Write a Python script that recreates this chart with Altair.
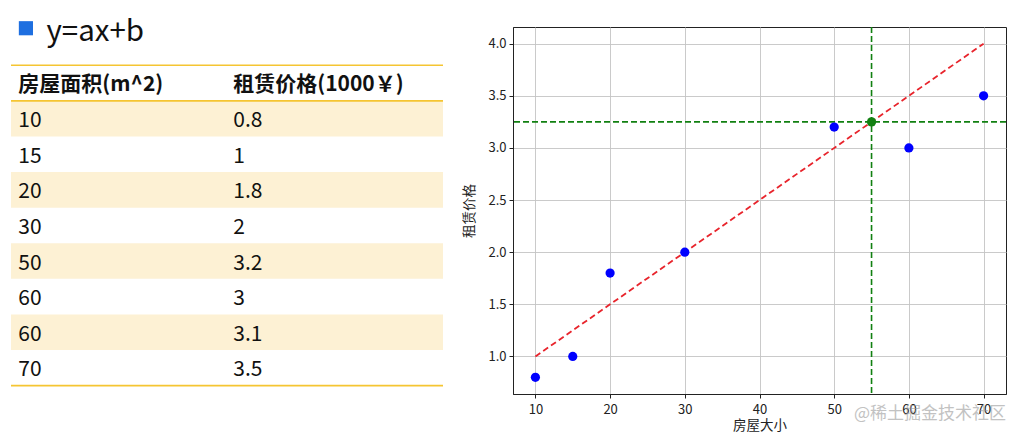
import altair as alt
import pandas as pd

# ---------------- data ----------------
title_text = "y=ax+b"
headers = ["房屋面积(m^2)", "租赁价格(1000￥)"]
table_area = ["10", "15", "20", "30", "50", "60", "60", "70"]
table_price = ["0.8", "1", "1.8", "2", "3.2", "3", "3.1", "3.5"]

pts_x = [10, 15, 20, 30, 50, 60, 70]
pts_y = [0.8, 1.0, 1.8, 2.0, 3.2, 3.0, 3.5]
fit_x = [10, 70]
fit_y = [1.0, 4.0]
pred_x = [55]
pred_y = [3.25]
x_ticks = [10, 20, 30, 40, 50, 60, 70]
y_ticks = [1.0, 1.5, 2.0, 2.5, 3.0, 3.5, 4.0]
x_label = "房屋大小"
y_label = "租赁价格"
watermark = "@稀土掘金技术社区"

# ---------------- styles ----------------
CJK = "Noto Sans CJK SC"
band_color = "#FDF1D4"
line_color = "#F5C532"
square_blue = "#1E6FE0"
text_color = "#111111"
frame = "#222222"
transparent_view = alt.ViewBackground(stroke="transparent")

# ---------------- table (left) ----------------
n = len(table_area)
col_x = [0.017, 0.5145]
xs_t = alt.Scale(domain=[0, 1], nice=False, zero=False)
ys_t = alt.Scale(domain=[-1.58, 9.234], reverse=True, nice=False, zero=False)
tx = alt.X("x:Q", scale=xs_t, axis=None)
ty = alt.Y("k:Q", scale=ys_t, axis=None)

rows = pd.DataFrame({"row": list(range(1, n + 1)), "area": table_area, "price": table_price})
bands = rows[rows["row"] % 2 == 1].assign(y0=lambda d: d["row"], y1=lambda d: d["row"] + 1, x0=0.0, x1=1.0)

band_layer = alt.Chart(bands).mark_rect(color=band_color).encode(
    x=alt.X("x0:Q", scale=xs_t, axis=None), x2="x1:Q",
    y=alt.Y("y0:Q", scale=ys_t, axis=None), y2="y1:Q",
)

rule_df = pd.DataFrame({"k": [0, 1, n + 1]})
rule_layer = alt.Chart(rule_df).mark_rule(color=line_color, strokeWidth=1.6).encode(y=ty)

head_df = pd.DataFrame({"x": col_x, "k": [0.56, 0.56], "t": headers})
head_layer = alt.Chart(head_df).mark_text(
    align="left", baseline="middle", font=CJK, fontSize=21, fontWeight="bold", color=text_color
).encode(x=tx, y=ty, text="t:N")

cells = pd.concat([
    pd.DataFrame({"x": col_x[0], "k": rows["row"] + 0.57, "t": rows["area"]}),
    pd.DataFrame({"x": col_x[1], "k": rows["row"] + 0.57, "t": rows["price"]}),
])
cell_layer = alt.Chart(cells).mark_text(
    align="left", baseline="middle", font=CJK, fontSize=21, color=text_color
).encode(x=tx, y=ty, text="t:N")

sq_layer = alt.Chart(pd.DataFrame({"x": [0.0345], "k": [-1.04]})).mark_square(
    size=200, color=square_blue, opacity=1
).encode(x=tx, y=ty)

ttl_layer = alt.Chart(pd.DataFrame({"x": [0.082], "k": [-0.93], "t": [title_text]})).mark_text(
    align="left", baseline="middle", font=CJK, fontSize=29.5, color=text_color
).encode(x=tx, y=ty, text="t:N")

table = alt.layer(band_layer, rule_layer, head_layer, cell_layer, sq_layer, ttl_layer).properties(
    width=432, height=385, view=transparent_view
)

# ---------------- scatter (right) ----------------
xsc = alt.Scale(domain=[7, 73], nice=False, zero=False)
ysc = alt.Scale(domain=[0.64, 4.16], nice=False, zero=False)

x_axis = alt.Axis(values=x_ticks, title=x_label, grid=True, gridColor="#c4c4c4", gridWidth=0.9,
                  tickSize=4, tickColor=frame, domainColor=frame, labelColor=frame, titleColor=frame,
                  labelFont=CJK, titleFont=CJK, labelFontSize=13, titleFontSize=13.5,
                  titleFontWeight="normal", labelPadding=5, titlePadding=2, format="d")
y_axis = alt.Axis(values=y_ticks, title=y_label, grid=True, gridColor="#c4c4c4", gridWidth=0.9,
                  tickSize=4, tickColor=frame, domainColor=frame, labelColor=frame, titleColor=frame,
                  labelFont=CJK, titleFont=CJK, labelFontSize=13, titleFontSize=13.5,
                  titleFontWeight="normal", labelPadding=3, titlePadding=11, format=".1f")
sx = alt.X("x:Q", scale=xsc, axis=x_axis)
sy = alt.Y("y:Q", scale=ysc, axis=y_axis)

pts = pd.DataFrame({"x": pts_x, "y": pts_y})
fit = pd.DataFrame({"x": fit_x, "y": fit_y})
pred = pd.DataFrame({"x": pred_x, "y": pred_y})

fit_layer = alt.Chart(fit).mark_line(color="#e8242c", strokeWidth=1.8, strokeDash=[6, 3.5]).encode(x=sx, y=sy)
vline = alt.Chart(pred).mark_rule(color="#118011", strokeWidth=1.6, strokeDash=[6, 3]).encode(x=sx)
hline = alt.Chart(pred).mark_rule(color="#118011", strokeWidth=1.6, strokeDash=[6, 3]).encode(y=sy)
pts_layer = alt.Chart(pts).mark_circle(size=85, color="#0000ff", opacity=1).encode(x=sx, y=sy)
pred_layer = alt.Chart(pred).mark_circle(size=85, color="#118011", opacity=1).encode(x=sx, y=sy)
wm_layer = alt.Chart(pd.DataFrame({"t": [watermark]})).mark_text(
    align="right", baseline="middle", font=CJK, fontSize=17, color="#9a9a9a", opacity=0.6
).encode(text="t:N", x=alt.value(493), y=alt.value(387))

scatter = alt.layer(fit_layer, vline, hline, pts_layer, pred_layer, wm_layer).properties(
    width=493, height=367
)

# empty spacer above the scatter so its frame starts lower than the table
spacer = alt.Chart(pd.DataFrame({"a": [0]})).mark_point(opacity=0, size=1).encode(
    x=alt.value(200), y=alt.value(7)
).properties(width=493, height=15, view=transparent_view)

right = alt.vconcat(spacer, scatter, spacing=0)

chart = alt.hconcat(table, right, spacing=17).configure(
    padding={"left": 1, "top": 0, "right": 0, "bottom": 0}
).configure_view(stroke=frame, strokeWidth=1)

chart.save("out.html", embed_options={"renderer": "svg", "actions": False})
